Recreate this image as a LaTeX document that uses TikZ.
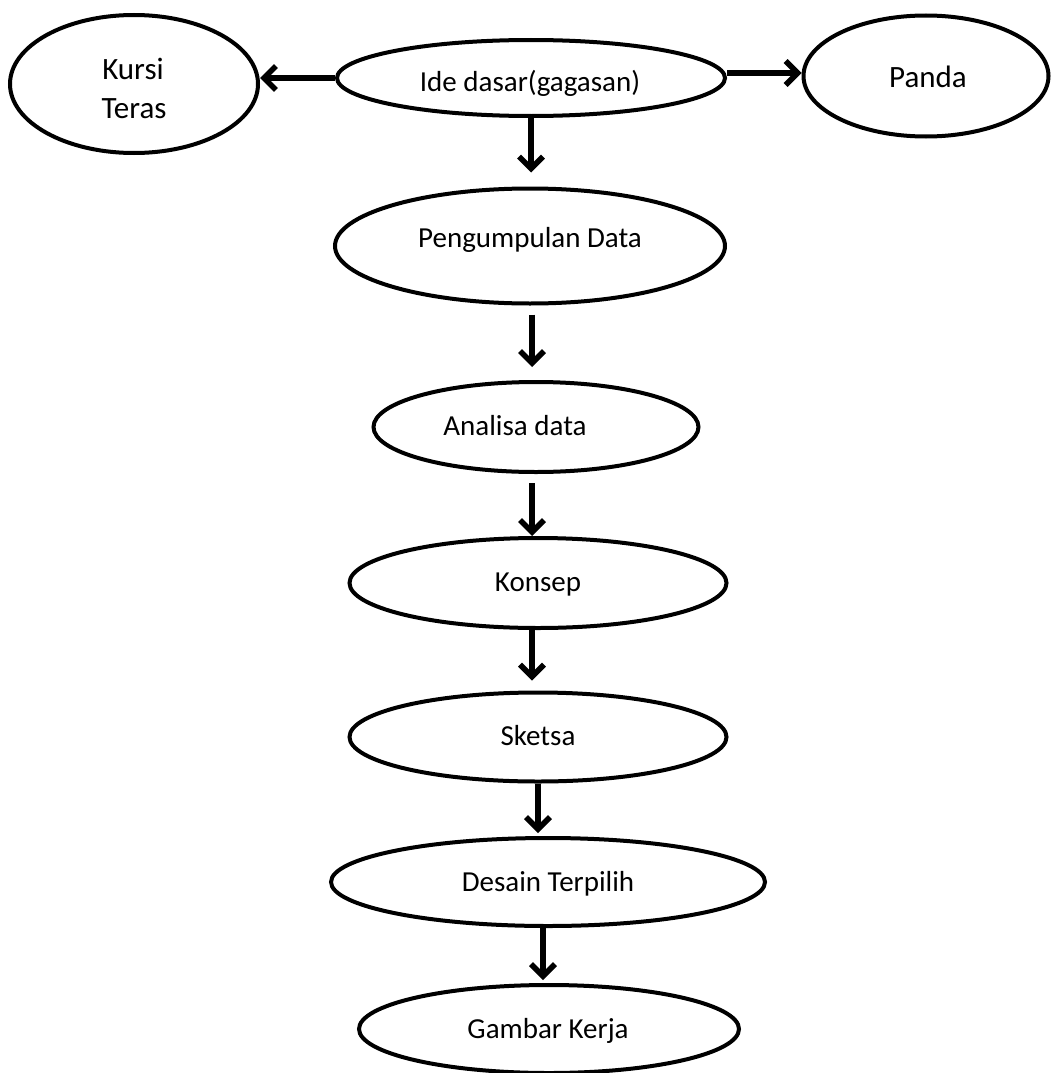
\documentclass[tikz,border=0pt]{standalone}
\usepackage{fontspec}
\setmainfont{Carlito}
\usetikzlibrary{shapes.geometric,arrows.meta}

\begin{document}
\begin{tikzpicture}[x=1pt,y=1pt,yscale=-1,
	oval/.style={draw,ellipse,line width=4pt,inner sep=0pt},
	lbl/.style={inner sep=0pt,text height=18pt,text depth=0pt,font=\fontsize{29}{38}\selectfont},
	lblbig/.style={lbl,text height=20pt,font=\fontsize{31}{38}\selectfont},
	flow/.style={line width=5.5pt,-{Straight Barb[length=12pt,width=24pt]}}]
	%set diagram frame
	\path[use as bounding box,fill=white] (0,0) rectangle (1051,1073);

	%Ellipses
	\node[oval,minimum width=248pt,minimum height=138pt] (kursi) at (134,84) {};
	\node[oval,minimum width=388pt,minimum height=76pt] (ide) at (531,78) {};
	\node[oval,minimum width=245pt,minimum height=121pt] (panda) at (926,76) {};
	\node[oval,minimum width=390pt,minimum height=115pt] (peng) at (530,246) {};
	\node[oval,minimum width=325pt,minimum height=90pt] (analisa) at (536,427) {};
	\node[oval,minimum width=377pt,minimum height=90pt] (konsep) at (538,583) {};
	\node[oval,minimum width=377pt,minimum height=89pt] (sketsa) at (538,737) {};
	\node[oval,minimum width=434pt,minimum height=88pt] (desain) at (548,882) {};
	\node[oval,minimum width=380pt,minimum height=88pt] (gambar) at (549,1029) {};

	% Text Node
	\node[lblbig] (kursiA) at (133,70) {Kursi};
	\node[lblbig] (kursiB) at (134,108) {Teras};
	\node[lbl] (ideT) at (530,83) {Ide dasar(gagasan)};
	\node[lblbig] (pandaT) at (928,77) {Panda};
	\node[lbl] (pengT) at (530,238) {Pengumpulan Data};
	\node[lbl] (analisaT) at (515,426) {Analisa data};
	\node[lbl] (konsepT) at (538,582) {Konsep};
	\node[lbl] (sketsaT) at (538,736) {Sketsa};
	\node[lbl] (desainT) at (548,882) {Desain Terpilih};
	\node[lbl] (gambarT) at (548,1029) {Gambar Kerja};

	%Straight Lines
	\draw[flow] (ide.west) -- (ide.west -| kursi.east);
	\draw[flow] ([yshift=-5pt]ide.east) -- ([yshift=-5pt]ide.east -| panda.west);
	\draw[flow,shorten >=14pt] (ide.south) -- (ide.south |- peng.north);
	\draw[flow,shorten <=9pt,shorten >=13pt] ([xshift=2pt]peng.south) -- ([xshift=2pt]peng.south |- analisa.north);
	\draw[flow,shorten <=9pt] ([xshift=-4pt]analisa.south) -- ([xshift=-4pt]analisa.south |- konsep.north);
	\draw[flow,shorten >=10pt] ([xshift=-6pt]konsep.south) -- ([xshift=-6pt]konsep.south |- sketsa.north);
	\draw[flow,shorten >=3pt] (sketsa.south) -- (sketsa.south |- desain.north);
	\draw[flow,shorten >=3pt] ([xshift=-5pt]desain.south) -- ([xshift=-5pt]desain.south |- gambar.north);

\end{tikzpicture}
\end{document}
